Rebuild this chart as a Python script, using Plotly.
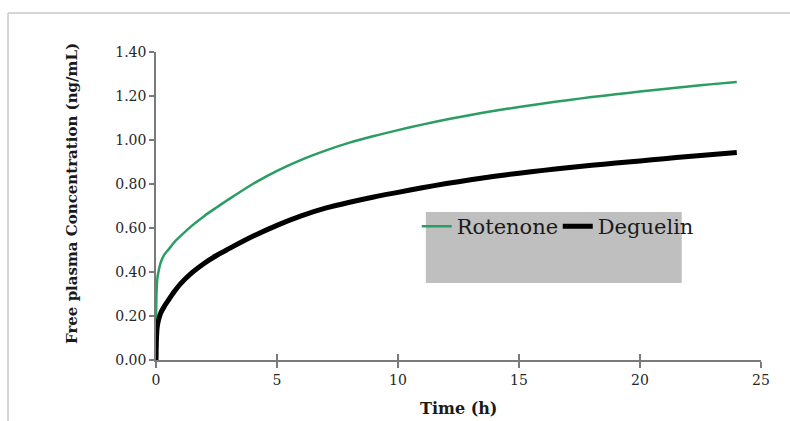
import plotly.graph_objects as go

time_h = [0, 0.02, 0.05, 0.1, 0.2, 0.35, 0.5, 0.75, 1, 1.5, 2, 2.5, 3, 4, 5, 6, 7, 8, 9, 10,
          11, 12, 13, 14, 15, 16, 17, 18, 19, 20, 21, 22, 23, 24]
rotenone = [0.17, 0.30, 0.365, 0.40, 0.445, 0.48, 0.50, 0.535, 0.562, 0.612, 0.655, 0.693, 0.73,
            0.80, 0.86, 0.91, 0.952, 0.988, 1.018, 1.045, 1.07, 1.093, 1.114, 1.133, 1.15, 1.166,
            1.181, 1.195, 1.208, 1.22, 1.232, 1.243, 1.254, 1.264]
deguelin = [0.0, 0.10, 0.15, 0.18, 0.215, 0.245, 0.27, 0.31, 0.345, 0.398, 0.44, 0.475, 0.505,
            0.562, 0.612, 0.655, 0.69, 0.717, 0.741, 0.762, 0.783, 0.802, 0.819, 0.835, 0.849,
            0.862, 0.874, 0.885, 0.895, 0.905, 0.915, 0.925, 0.934, 0.943]

x_ticks = [0, 5, 10, 15, 20, 25]
y_ticks = [0.0, 0.2, 0.4, 0.6, 0.8, 1.0, 1.2, 1.4]

FONT = "DejaVu Serif"
AX = "#7a7a7a"

fig = go.Figure()
fig.add_trace(go.Scatter(x=time_h, y=rotenone, mode="lines", name="Rotenone",
                         line=dict(color="#2a9d63", width=2.5, shape="spline", smoothing=0.8)))
fig.add_trace(go.Scatter(x=time_h, y=deguelin, mode="lines", name="Deguelin",
                         line=dict(color="#000000", width=5, shape="spline", smoothing=0.8)))
# invisible trace to host the cross-tick overlay axis
fig.add_trace(go.Scatter(x=[None], y=[None], xaxis="x2", showlegend=False, hoverinfo="skip"))

fig.update_layout(
    width=790, height=421,
    margin=dict(l=156, r=29, t=52, b=61),
    paper_bgcolor="white", plot_bgcolor="white",
    font=dict(family=FONT, color="#262626", size=14),
    xaxis=dict(range=[0, 25], tickvals=x_ticks, ticks="outside", ticklen=6, tickwidth=1.5,
               tickcolor=AX, showline=True, linecolor=AX, linewidth=1.5, showgrid=False,
               zeroline=False, tickfont=dict(family=FONT, size=14, color="#262626")),
    xaxis2=dict(range=[0, 25], tickvals=x_ticks, ticks="inside", ticklen=6, tickwidth=1.5,
                tickcolor=AX, showline=False, showgrid=False, zeroline=False,
                showticklabels=False, overlaying="x", anchor="y", side="bottom"),
    yaxis=dict(range=[0, 1.4], tickvals=y_ticks, tickformat=".2f", ticks="outside", ticklen=5,
               tickwidth=1.5, tickcolor=AX, showline=True, linecolor=AX, linewidth=1.5,
               showgrid=False, zeroline=False,
               tickfont=dict(family=FONT, size=14, color="#262626")),
    showlegend=True,
    legend=dict(orientation="h", x=0.431, xanchor="left", y=0.50, yanchor="top",
                bgcolor="rgba(0,0,0,0)", font=dict(family=FONT, size=21, color="#1a1a1a"),
                itemwidth=30, traceorder="normal", entrywidth=96, entrywidthmode="pixels"),
    shapes=[
        dict(type="rect", xref="paper", yref="paper", x0=0.446, x1=0.869, y0=0.25, y1=0.4805,
             fillcolor="#bfbfbf", line=dict(width=0), layer="below"),
        dict(type="line", xref="paper", yref="paper", x0=-0.2446, x1=1.1, y0=1.1266, y1=1.1266,
             line=dict(color="#c8c8c8", width=1.5)),
        dict(type="line", xref="paper", yref="paper", x0=-0.2446, x1=-0.2446, y0=1.1266, y1=-0.25,
             line=dict(color="#c8c8c8", width=1.5)),
    ],
    annotations=[
        dict(text="<b>Free plasma Concentration (ng/mL)</b>", xref="paper", yref="paper",
             x=-0.139, y=0.542, xanchor="center", yanchor="middle", textangle=-90,
             showarrow=False, font=dict(family=FONT, size=15, color="#1a1a1a")),
        dict(text="<b>Time (h)</b>", xref="paper", yref="paper", x=0.5, y=-0.156,
             xanchor="center", yanchor="middle",
             showarrow=False, font=dict(family=FONT, size=16, color="#1a1a1a")),
    ],
)

fig.write_html("out.html")
